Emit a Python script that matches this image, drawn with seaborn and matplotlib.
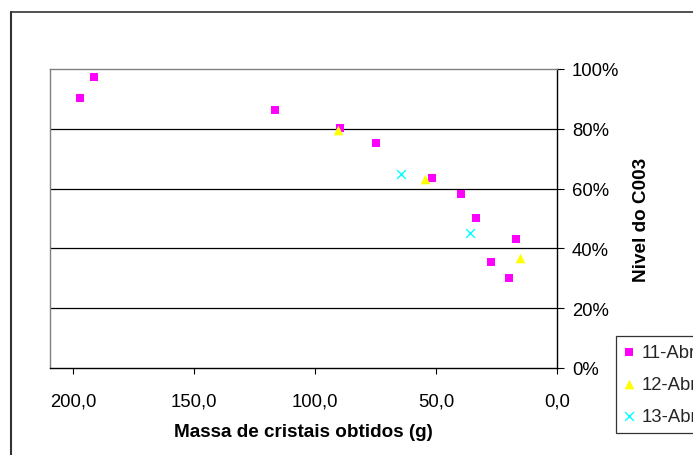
import matplotlib
matplotlib.use("Agg")
import matplotlib.pyplot as plt
import seaborn as sns
import pandas as pd
from matplotlib.ticker import FuncFormatter, FixedLocator
from matplotlib.lines import Line2D

# ---- data ----
s11_x = [197.3, 191.4, 116.6, 89.8, 74.6, 51.8, 39.7, 33.2, 16.8, 27.3, 19.6]
s11_y = [90.3, 97.3, 86.3, 80.2, 75.4, 63.5, 58.2, 50.3, 43.2, 35.4, 30.1]
s12_x = [90.7, 54.7, 15.0]
s12_y = [79.7, 63.1, 36.8]
s13_x = [64.5, 35.7]
s13_y = [64.9, 45.2]
series_names = ["11-Abr", "12-Abr", "13-Abr"]
x_ticks = [200, 150, 100, 50, 0]
y_ticks = [0, 20, 40, 60, 80, 100]
x_label = "Massa de cristais obtidos (g)"
y_label = "Nivel do C003"

sns.set_theme(style="white")
plt.rcParams["font.family"] = ["Liberation Sans", "DejaVu Sans"]

W, H = 693, 456
fig = plt.figure(figsize=(W / 100, H / 100), dpi=100)
ax = fig.add_axes([50.3 / W, 1 - 369 / H, (556.7 - 50.3) / W, (369 - 70) / H])

FS = 13.3
styles = [
    dict(marker="s", color="#FF00FF", s=34, linewidth=0),
    dict(marker="^", color="#FFFF00", s=48, linewidth=0),
    dict(marker="x", color="#00FFFF", s=40, linewidth=1.0),
]
data = [(s11_x, s11_y), (s12_x, s12_y), (s13_x, s13_y)]
for name, (xs, ys), st in zip(series_names, data, styles):
    df = pd.DataFrame({"x": xs, "y": ys})
    sns.scatterplot(data=df, x="x", y="y", ax=ax, label=name, zorder=3, **st)

ax.set_xlim(209.6, 0)
ax.set_ylim(0, 100)

ax.xaxis.set_major_locator(FixedLocator(x_ticks))
ax.yaxis.set_major_locator(FixedLocator(y_ticks))
ax.xaxis.set_major_formatter(FuncFormatter(lambda v, p: f"{v:.1f}".replace(".", ",")))
ax.yaxis.set_major_formatter(FuncFormatter(lambda v, p: f"{v:.0f}%"))

ax.yaxis.tick_right()
ax.yaxis.set_label_position("right")
ax.tick_params(axis="x", direction="out", length=4, width=0.8, color="black",
               labelsize=FS, pad=13.5, bottom=True, labelcolor="black")
ax.tick_params(axis="y", direction="out", length=5, width=0.8, color="black",
               labelsize=FS, pad=6, right=True, left=False, labelcolor="black")

for yv in [20, 40, 60, 80]:
    ax.axhline(yv, color="black", lw=0.9, zorder=1)

for side in ["left", "top"]:
    ax.spines[side].set_color("#808080")
    ax.spines[side].set_linewidth(1.0)
for side in ["right", "bottom"]:
    ax.spines[side].set_color("black")
    ax.spines[side].set_linewidth(1.0)
    ax.spines[side].set_visible(True)

ax.set_xlabel(x_label, fontsize=13.6, fontweight="bold", labelpad=10, color="black")
ax.set_ylabel(y_label, fontsize=13.6, fontweight="bold", labelpad=10, color="black")

leg = ax.legend(loc="upper left", bbox_to_anchor=(616 / W, 1 - 337 / H),
                bbox_transform=fig.transFigure, frameon=True, fancybox=False,
                edgecolor="black", fontsize=FS, borderaxespad=0,
                handletextpad=0.4, labelspacing=0.8, borderpad=0.45,
                handlelength=0.55, markerscale=1.0)
leg.get_frame().set_linewidth(0.9)

# outer chart border (extends beyond the visible image)
fig.add_artist(Line2D([11 / W, 11 / W], [0, 1 - 13 / H], transform=fig.transFigure,
                      color="#333333", lw=1.5))
fig.add_artist(Line2D([11 / W, 1], [1 - 13 / H, 1 - 13 / H], transform=fig.transFigure,
                      color="#333333", lw=1.2))

fig.savefig("out.png", dpi=100)
